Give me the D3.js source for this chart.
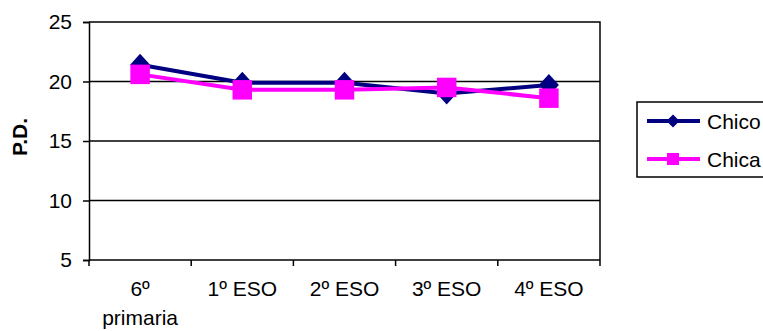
<!DOCTYPE html>
<html>
<head>
<meta charset="utf-8">
<script src="https://cdn.jsdelivr.net/npm/d3@7"></script>
<style>
  html, body { margin: 0; padding: 0; background: #fff; }
  svg { display: block; font-family: "Liberation Sans", Arial, sans-serif; }
</style>
</head>
<body>
<svg id="chart" width="763" height="331"></svg>
<script>
// Course levels along the x axis (first label wraps onto two lines)
const categories = ["6º primaria", "1º ESO", "2º ESO", "3º ESO", "4º ESO"];
const categoryLines = [["6º", "primaria"], ["1º ESO"], ["2º ESO"], ["3º ESO"], ["4º ESO"]];
// Mean direct score (P.D.) per course
const chico = [21.4, 19.9, 19.9, 19.0, 19.7];
const chica = [20.6, 19.3, 19.3, 19.5, 18.6];
const yTicks = [5, 10, 15, 20, 25];

// Wide diamond marker (rotated square), scaled by half-width / half-height
const diamond = (hw, hh) => `M0,${-hh}L${hw},0L0,${hh}L${-hw},0Z`;
const square = s => `M${-s / 2},${-s / 2}h${s}v${s}h${-s}Z`;

const series = [
  { name: "Chico", values: chico, color: "#000080", marker: diamond(10, 11), legendMarker: diamond(6.5, 6.5) },
  { name: "Chica", values: chica, color: "#FF00FF", marker: square(19.5), legendMarker: square(12) }
];

const svg = d3.select("#chart");
const m = { left: 89, top: 22, right: 600, bottom: 260 };
const FS = 21;

const x = d3.scaleBand().domain(categories).range([m.left, m.right]).padding(0);
const y = d3.scaleLinear().domain([5, 25]).range([m.bottom, m.top]);
const cx = c => x(c) + x.bandwidth() / 2;

// Horizontal gridlines
svg.append("g")
  .selectAll("line")
  .data(yTicks.filter(t => t > 5 && t < 25))
  .join("line")
  .attr("x1", m.left).attr("x2", m.right)
  .attr("y1", d => y(d)).attr("y2", d => y(d))
  .attr("stroke", "#000").attr("stroke-width", 1.5);

// Plot frame (top and right)
svg.append("path")
  .attr("d", `M${m.left},${m.top}H${m.right}V${m.bottom}`)
  .attr("fill", "none").attr("stroke", "#000").attr("stroke-width", 1.5);

// Y axis
const yAxis = svg.append("g")
  .attr("transform", `translate(${m.left},0)`)
  .call(d3.axisLeft(y).tickValues(yTicks).tickSize(6).tickPadding(11));
yAxis.select(".domain").attr("stroke-width", 1.5);
yAxis.selectAll(".tick line").attr("stroke-width", 1.5);
yAxis.selectAll(".tick text").attr("font-size", FS).attr("fill", "#000")
  .attr("font-family", "Liberation Sans, Arial, sans-serif");

// X axis: ticks sit on category boundaries
const xAxis = svg.append("g").attr("transform", `translate(0,${m.bottom})`);
xAxis.append("line")
  .attr("x1", m.left).attr("x2", m.right)
  .attr("stroke", "#000").attr("stroke-width", 1.5);
const bounds = categories.map(c => x(c)).concat([m.right]);
xAxis.selectAll("line.tk")
  .data(bounds)
  .join("line").attr("class", "tk")
  .attr("x1", d => d).attr("x2", d => d)
  .attr("y1", 0).attr("y2", 6)
  .attr("stroke", "#000").attr("stroke-width", 1.5);
xAxis.selectAll("text.lbl")
  .data(categories)
  .join("text").attr("class", "lbl")
  .attr("x", d => cx(d))
  .attr("y", 36)
  .attr("text-anchor", "middle")
  .attr("font-size", FS)
  .each(function(d, i) {
    const t = d3.select(this);
    categoryLines[i].forEach((ln, j) => {
      t.append("tspan")
        .attr("x", cx(d))
        .attr("dy", j === 0 ? 0 : 29)
        .text(ln);
    });
  });

// Y axis title
svg.append("text")
  .attr("transform", "translate(27,137) rotate(-90)")
  .attr("text-anchor", "middle")
  .attr("font-size", FS).attr("font-weight", "bold")
  .text("P.D.");

// Series lines and markers
const line = d3.line()
  .x((d, i) => cx(categories[i]))
  .y(d => y(d));

series.forEach(s => {
  svg.append("path")
    .datum(s.values)
    .attr("d", line)
    .attr("fill", "none")
    .attr("stroke", s.color)
    .attr("stroke-width", 4);
  svg.append("g")
    .selectAll("path")
    .data(s.values)
    .join("path")
    .attr("transform", (d, i) => `translate(${cx(categories[i])},${y(d)})`)
    .attr("d", s.marker)
    .attr("fill", s.color);
});

// Legend
const lg = svg.append("g");
lg.append("rect")
  .attr("x", 637).attr("y", 102).attr("width", 140).attr("height", 75)
  .attr("fill", "#fff").attr("stroke", "#000").attr("stroke-width", 1.5);
series.forEach((s, i) => {
  const cy = 121 + i * 38;
  lg.append("line")
    .attr("x1", 647).attr("x2", 700).attr("y1", cy).attr("y2", cy)
    .attr("stroke", s.color).attr("stroke-width", 4);
  lg.append("path")
    .attr("transform", `translate(673,${cy})`)
    .attr("d", s.legendMarker)
    .attr("fill", s.color);
  lg.append("text")
    .attr("x", 707).attr("y", cy + 7.5)
    .attr("font-size", FS)
    .text(s.name);
});
</script>
</body>
</html>
